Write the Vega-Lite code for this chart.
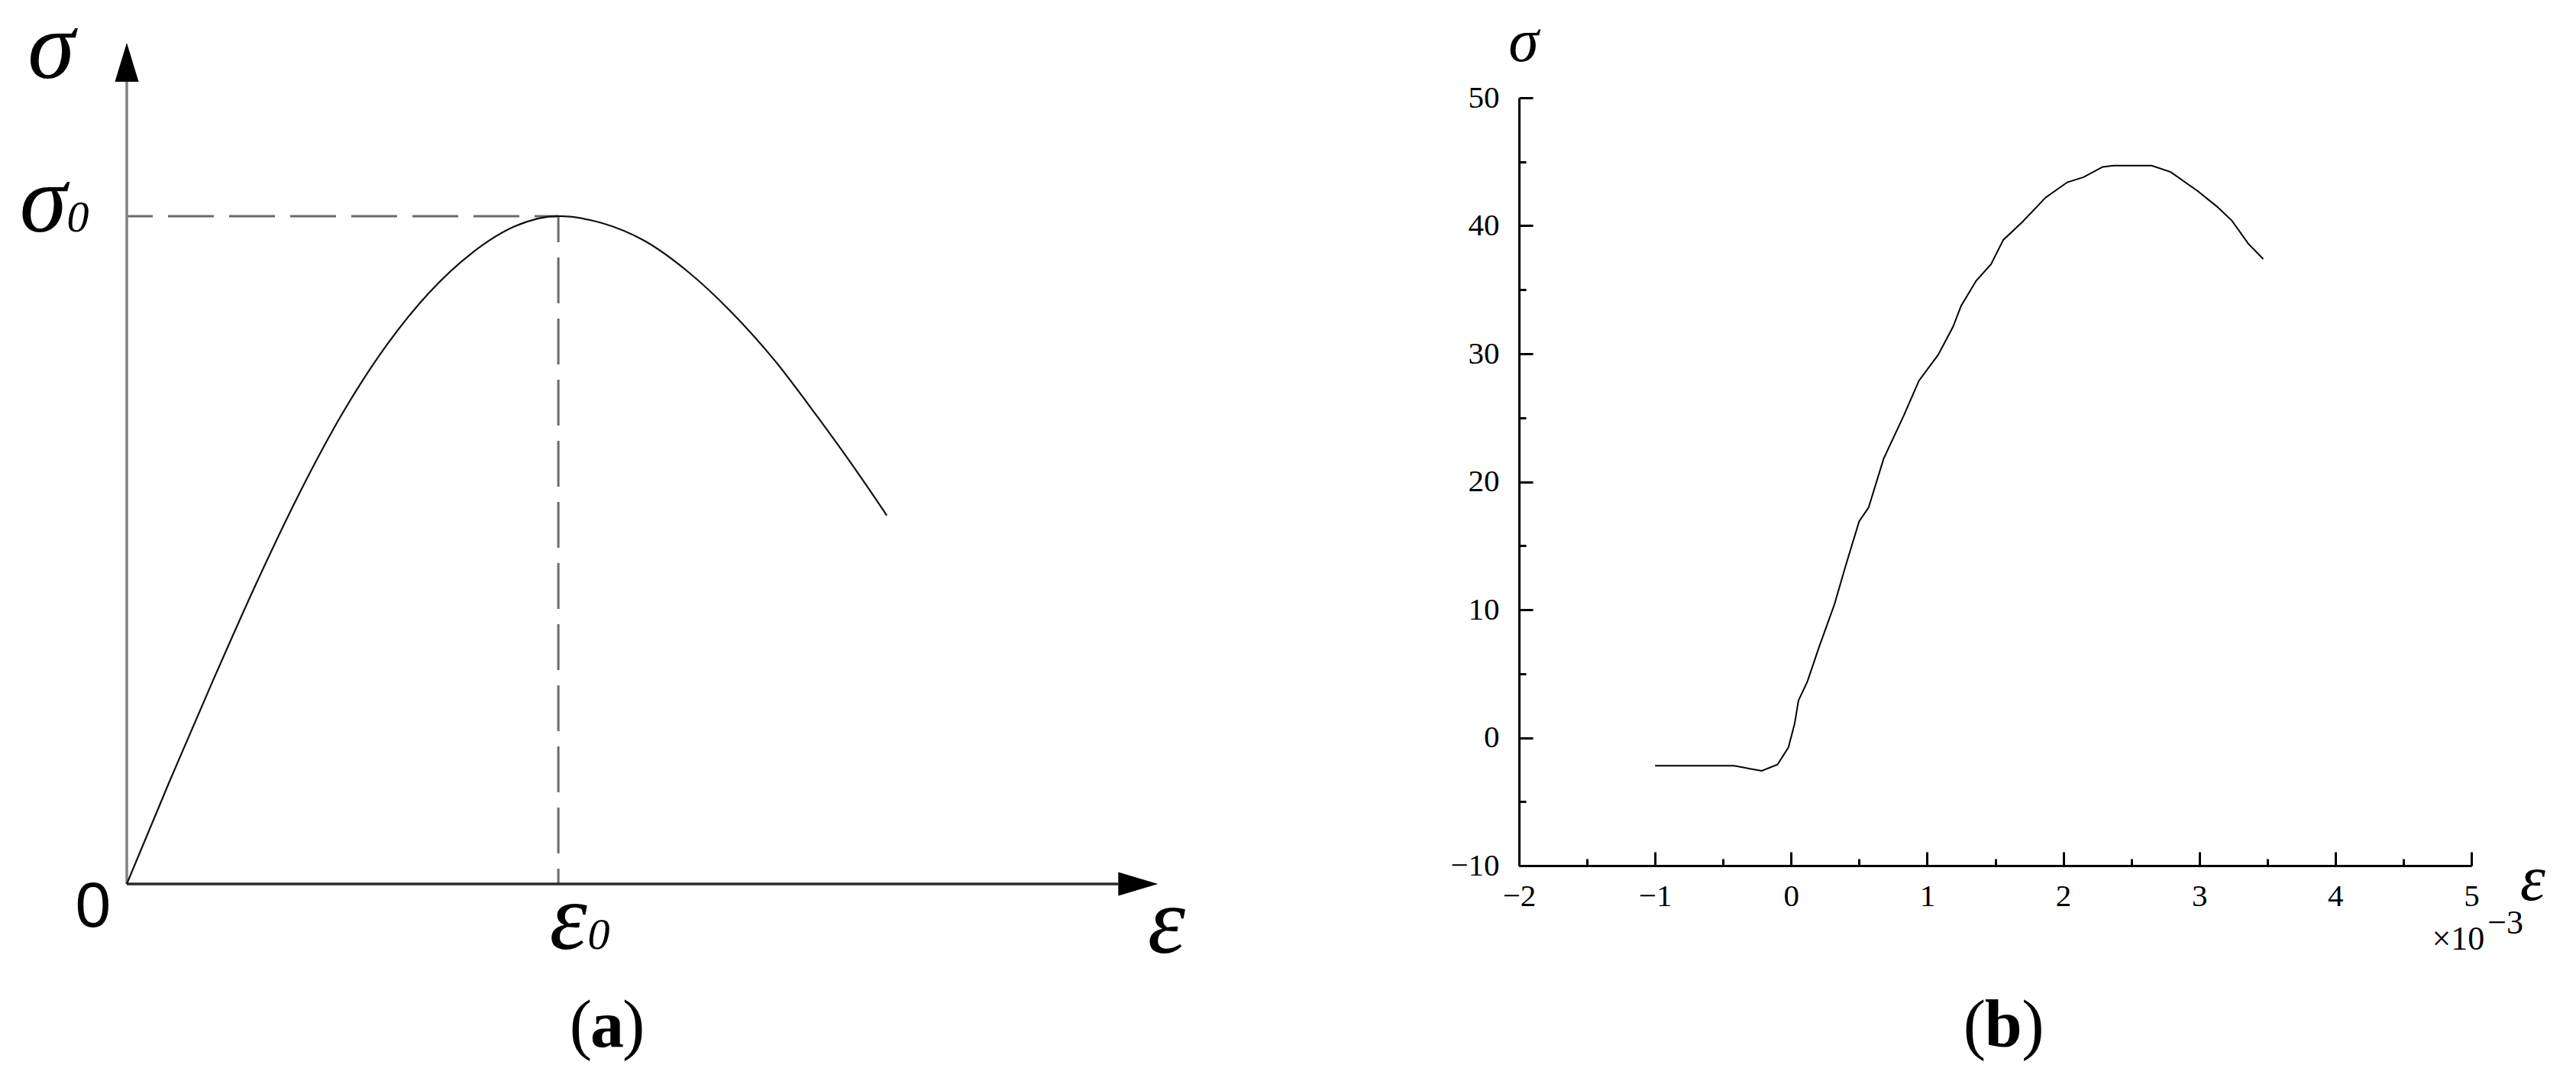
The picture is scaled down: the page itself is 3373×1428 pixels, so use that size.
{
  "$schema": "https://vega.github.io/schema/vega-lite/v6.json",
  "background": "white",
  "padding": {"left": 25, "top": 2, "right": 5, "bottom": 5},
  "bounds": "flush",
  "spacing": 473,
  "config": {"view": {"stroke": null}},
  "datasets": {
    "curveA": [
      {"x": 0, "y": 0}, {"x": 0.1, "y": 0.155}, {"x": 0.2, "y": 0.305}, {"x": 0.3, "y": 0.45},
      {"x": 0.4, "y": 0.585}, {"x": 0.5, "y": 0.705}, {"x": 0.6, "y": 0.805}, {"x": 0.7, "y": 0.885},
      {"x": 0.8, "y": 0.945}, {"x": 0.9, "y": 0.985}, {"x": 1.0, "y": 1.0}, {"x": 1.1, "y": 0.99},
      {"x": 1.2, "y": 0.963}, {"x": 1.3, "y": 0.917}, {"x": 1.4, "y": 0.857}, {"x": 1.5, "y": 0.785},
      {"x": 1.6, "y": 0.70}, {"x": 1.7, "y": 0.61}, {"x": 1.761, "y": 0.552}
    ],
    "guidesA": [
      {"part": "yaxis", "x": 0, "y": 0, "x2": 0, "y2": 1.2014},
      {"part": "xaxis", "x": 0, "y": 0, "x2": 2.297, "y2": 0},
      {"part": "dashH", "x": 0, "y": 1, "x2": 1, "y2": 1},
      {"part": "dashV", "x": 1, "y": 1, "x2": 1, "y2": 0}
    ],
    "arrowsA": [
      {"dir": "up", "x": 0, "y": 1.2306},
      {"dir": "right", "x": 2.3434, "y": 0}
    ],
    "labelsA": [
      {"role": "sym", "t": "σ", "x": -0.175, "y": 1.207},
      {"role": "sym", "t": "σ", "x": -0.1938, "y": 0.977},
      {"role": "sub", "t": "0", "x": -0.1133, "y": 0.977},
      {"role": "sym", "t": "ε", "x": 2.409, "y": -0.103},
      {"role": "sym", "t": "ε", "x": 1.023, "y": -0.0973},
      {"role": "sub", "t": "0", "x": 1.0938, "y": -0.0973},
      {"role": "origin", "t": "0", "x": -0.0779, "y": -0.0641},
      {"role": "parenL", "t": "(", "x": 1.0779, "y": -0.2437},
      {"role": "letter", "t": "a", "x": 1.1133, "y": -0.2437},
      {"role": "parenR", "t": ")", "x": 1.1487, "y": -0.2437}
    ],
    "curveB": [
      {"x": -1.0, "y": -2.2}, {"x": -0.42, "y": -2.2}, {"x": -0.216, "y": -2.6}, {"x": -0.10, "y": -2.1},
      {"x": -0.02, "y": -0.76}, {"x": 0.026, "y": 1.1}, {"x": 0.054, "y": 2.9}, {"x": 0.12, "y": 4.4},
      {"x": 0.206, "y": 7.1}, {"x": 0.318, "y": 10.4}, {"x": 0.40, "y": 13.4}, {"x": 0.50, "y": 16.9},
      {"x": 0.57, "y": 18.0}, {"x": 0.68, "y": 21.8}, {"x": 0.825, "y": 25.1}, {"x": 0.94, "y": 27.9},
      {"x": 1.08, "y": 29.9}, {"x": 1.19, "y": 32.1}, {"x": 1.25, "y": 33.75}, {"x": 1.36, "y": 35.7},
      {"x": 1.47, "y": 37.0}, {"x": 1.56, "y": 38.9}, {"x": 1.70, "y": 40.3}, {"x": 1.87, "y": 42.2},
      {"x": 2.03, "y": 43.4}, {"x": 2.15, "y": 43.8}, {"x": 2.29, "y": 44.6}, {"x": 2.37, "y": 44.7},
      {"x": 2.65, "y": 44.7}, {"x": 2.79, "y": 44.2}, {"x": 2.99, "y": 42.7}, {"x": 3.13, "y": 41.5},
      {"x": 3.24, "y": 40.4}, {"x": 3.36, "y": 38.6}, {"x": 3.47, "y": 37.4}
    ],
    "labelsB": [
      {"role": "sigma", "t": "σ", "x": -1.9663, "y": 52.866},
      {"role": "eps", "t": "ε", "x": 5.4508, "y": -12.687},
      {"role": "mult", "t": "×10", "x": 5.0972, "y": -16.567},
      {"role": "exp", "t": "−3", "x": 5.1196, "y": -15.313},
      {"role": "parenL", "t": "(", "x": 1.4306, "y": -24.15},
      {"role": "letter", "t": "b", "x": 1.5598, "y": -24.15},
      {"role": "parenR", "t": ")", "x": 1.6947, "y": -24.15}
    ]
  },
  "hconcat": [
    {
      "width": 1350,
      "height": 1029,
      "encoding": {
        "x": {"field": "x", "type": "quantitative", "scale": {"domain": [0, 2.389], "nice": false, "zero": false}, "axis": null},
        "y": {"field": "y", "type": "quantitative", "scale": {"domain": [0, 1.1773], "nice": false, "zero": false}, "axis": null}
      },
      "layer": [
        {
          "data": {"name": "guidesA"},
          "transform": [{"filter": "datum.part === 'dashH' || datum.part === 'dashV'"}],
          "mark": {"type": "rule", "color": "#6b6b6b", "strokeWidth": 3, "strokeDash": [60, 20], "strokeDashOffset": 26},
          "encoding": {"x2": {"field": "x2"}, "y2": {"field": "y2"}}
        },
        {
          "data": {"name": "guidesA"},
          "transform": [{"filter": "datum.part === 'yaxis'"}],
          "mark": {"type": "rule", "color": "#808080", "strokeWidth": 3.5},
          "encoding": {"x2": {"field": "x2"}, "y2": {"field": "y2"}}
        },
        {
          "data": {"name": "guidesA"},
          "transform": [{"filter": "datum.part === 'xaxis'"}],
          "mark": {"type": "rule", "color": "#2a2a2a", "strokeWidth": 3.5},
          "encoding": {"x2": {"field": "x2"}, "y2": {"field": "y2"}}
        },
        {
          "data": {"name": "curveA"},
          "mark": {"type": "line", "color": "#111111", "strokeWidth": 2.2, "interpolate": "monotone"}
        },
        {
          "data": {"name": "arrowsA"},
          "transform": [{"filter": "datum.dir === 'up'"}],
          "mark": {"type": "point", "shape": "M0,-1L0.61,1L-0.61,1Z", "size": 2601, "filled": true, "color": "#000000", "opacity": 1}
        },
        {
          "data": {"name": "arrowsA"},
          "transform": [{"filter": "datum.dir === 'right'"}],
          "mark": {"type": "point", "shape": "M1,0L-1,0.6L-1,-0.6Z", "size": 2704, "filled": true, "color": "#000000", "opacity": 1}
        },
        {
          "data": {"name": "labelsA"},
          "transform": [{"filter": "datum.role === 'sym'"}],
          "mark": {"type": "text", "font": "Liberation Serif", "fontStyle": "italic", "fontSize": 125, "align": "center", "baseline": "alphabetic", "color": "#000000"},
          "encoding": {"text": {"field": "t"}}
        },
        {
          "data": {"name": "labelsA"},
          "transform": [{"filter": "datum.role === 'sub'"}],
          "mark": {"type": "text", "font": "Liberation Serif", "fontStyle": "italic", "fontSize": 58, "align": "center", "baseline": "alphabetic", "color": "#000000"},
          "encoding": {"text": {"field": "t"}}
        },
        {
          "data": {"name": "labelsA"},
          "transform": [{"filter": "datum.role === 'origin'"}],
          "mark": {"type": "text", "font": "Liberation Sans", "fontSize": 84, "align": "center", "baseline": "alphabetic", "color": "#000000"},
          "encoding": {"text": {"field": "t"}}
        },
        {
          "data": {"name": "labelsA"},
          "transform": [{"filter": "datum.role === 'parenL'"}],
          "mark": {"type": "text", "font": "Liberation Serif", "fontSize": 88, "align": "right", "baseline": "alphabetic", "color": "#000000"},
          "encoding": {"text": {"field": "t"}}
        },
        {
          "data": {"name": "labelsA"},
          "transform": [{"filter": "datum.role === 'letter'"}],
          "mark": {"type": "text", "font": "Liberation Serif", "fontWeight": "bold", "fontSize": 88, "align": "center", "baseline": "alphabetic", "color": "#000000"},
          "encoding": {"text": {"field": "t"}}
        },
        {
          "data": {"name": "labelsA"},
          "transform": [{"filter": "datum.role === 'parenR'"}],
          "mark": {"type": "text", "font": "Liberation Serif", "fontSize": 88, "align": "left", "baseline": "alphabetic", "color": "#000000"},
          "encoding": {"text": {"field": "t"}}
        }
      ]
    },
    {
      "width": 1247,
      "height": 1005,
      "encoding": {
        "x": {
          "field": "x", "type": "quantitative",
          "scale": {"domain": [-2, 5], "nice": false, "zero": false},
          "axis": {
            "title": null, "grid": false,
            "values": [-2, -1.5, -1, -0.5, 0, 0.5, 1, 1.5, 2, 2.5, 3, 3.5, 4, 4.5, 5],
            "domainColor": "#000000", "domainWidth": 3,
            "tickColor": "#000000", "tickWidth": 3,
            "tickSize": {"condition": {"test": "datum.value % 1 === 0", "value": -18}, "value": -9},
            "labelExpr": "datum.value % 1 === 0 ? format(datum.value, 'd') : ''",
            "labelFont": "Liberation Serif", "labelFontSize": 41, "labelColor": "#000000",
            "labelPadding": 38, "labelFlush": false, "labelOverlap": false
          }
        },
        "y": {
          "field": "y", "type": "quantitative",
          "scale": {"domain": [-10, 50], "nice": false, "zero": false},
          "axis": {
            "title": null, "grid": false,
            "values": [-10, -5, 0, 5, 10, 15, 20, 25, 30, 35, 40, 45, 50],
            "domainColor": "#000000", "domainWidth": 3,
            "tickColor": "#000000", "tickWidth": 3,
            "tickSize": {"condition": {"test": "datum.value % 10 === 0", "value": -18}, "value": -9},
            "labelExpr": "datum.value % 10 === 0 ? format(datum.value, 'd') : ''",
            "labelFont": "Liberation Serif", "labelFontSize": 41, "labelColor": "#000000",
            "labelPadding": 44, "labelFlush": false, "labelOverlap": false
          }
        }
      },
      "layer": [
        {
          "data": {"name": "curveB"},
          "mark": {"type": "line", "color": "#000000", "strokeWidth": 2}
        },
        {
          "data": {"name": "labelsB"},
          "transform": [{"filter": "datum.role === 'sigma'"}],
          "mark": {"type": "text", "font": "Liberation Serif", "fontStyle": "italic", "fontSize": 80, "align": "center", "baseline": "alphabetic", "color": "#000000"},
          "encoding": {"text": {"field": "t"}}
        },
        {
          "data": {"name": "labelsB"},
          "transform": [{"filter": "datum.role === 'eps'"}],
          "mark": {"type": "text", "font": "Liberation Serif", "fontStyle": "italic", "fontSize": 84, "align": "center", "baseline": "alphabetic", "color": "#000000"},
          "encoding": {"text": {"field": "t"}}
        },
        {
          "data": {"name": "labelsB"},
          "transform": [{"filter": "datum.role === 'mult'"}],
          "mark": {"type": "text", "font": "Liberation Serif", "fontSize": 44, "align": "right", "baseline": "alphabetic", "color": "#000000"},
          "encoding": {"text": {"field": "t"}}
        },
        {
          "data": {"name": "labelsB"},
          "transform": [{"filter": "datum.role === 'exp'"}],
          "mark": {"type": "text", "font": "Liberation Serif", "fontSize": 44, "align": "left", "baseline": "alphabetic", "color": "#000000"},
          "encoding": {"text": {"field": "t"}}
        },
        {
          "data": {"name": "labelsB"},
          "transform": [{"filter": "datum.role === 'parenL'"}],
          "mark": {"type": "text", "font": "Liberation Serif", "fontSize": 88, "align": "right", "baseline": "alphabetic", "color": "#000000"},
          "encoding": {"text": {"field": "t"}}
        },
        {
          "data": {"name": "labelsB"},
          "transform": [{"filter": "datum.role === 'letter'"}],
          "mark": {"type": "text", "font": "Liberation Serif", "fontWeight": "bold", "fontSize": 88, "align": "center", "baseline": "alphabetic", "color": "#000000"},
          "encoding": {"text": {"field": "t"}}
        },
        {
          "data": {"name": "labelsB"},
          "transform": [{"filter": "datum.role === 'parenR'"}],
          "mark": {"type": "text", "font": "Liberation Serif", "fontSize": 88, "align": "left", "baseline": "alphabetic", "color": "#000000"},
          "encoding": {"text": {"field": "t"}}
        }
      ]
    }
  ]
}
